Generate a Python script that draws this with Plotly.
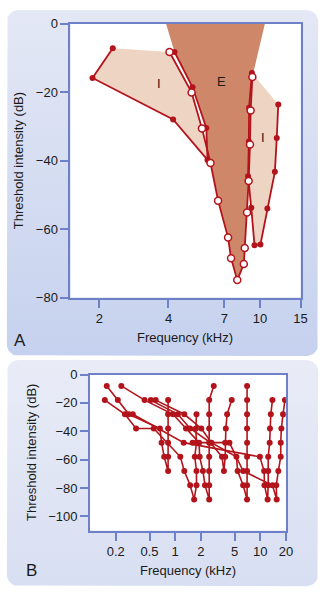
import numpy as np
import plotly.graph_objects as go

W, H = 334, 600
RED = "#b3141c"
AXC = "#6e80c8"
E_FILL = "#cf876a"
I_FILL = "#eed4c2"
FONT = "Liberation Sans, Arial, sans-serif"

# ---------------- Panel A data (kHz, dB) ----------------
open_f = [4.04, 5.04, 5.59, 6.09, 6.57, 7.26, 7.48, 7.96, 8.50, 8.58, 8.78, 8.92, 9.04, 9.10, 9.26]
open_db = [-8.3, -20.1, -30.6, -40.7, -51.7, -62.5, -68.5, -74.9, -70.2, -65.5, -55.2, -46.0, -35.3, -25.4, -15.6]

left_f = [4.25, 5.09, 5.84, 5.91, 4.19, 1.87, 2.29]
left_db = [-8.3, -18.6, -30.5, -39.8, -28.0, -15.9, -7.2]

right_f = [9.22, 8.96, 8.94, 8.87, 9.16, 9.46, 10.04, 10.76, 11.6, 11.82, 12.0]
right_db = [-14.4, -24.6, -34.4, -44.6, -53.8, -64.7, -64.5, -54.0, -43.3, -33.4, -23.6]

e_top_f = [3.9, 10.5]
e_top_db = [0, 0]

region_labels = ["I", "E", "I"]
label_f = [3.62, 6.83, 10.34]
label_db = [-17.4, -16.8, -33.3]

a_xticks = [2, 4, 7, 10, 15]
a_yticks = [0, -20, -40, -60, -80]

# ---------------- Panel B data (kHz, dB) ----------------
b1_f = [0.157, 0.212, 0.286, 0.662, 0.692, 0.743, 0.826, 0.826, 0.826, 0.826, 0.826, 0.826]
b1_db = [-8, -18, -28, -38, -48, -58, -68, -58, -48, -38, -28, -18]
b2_f = [0.149, 0.257, 0.347, 0.56, 1.15, 1.28, 1.50, 1.67, 1.78, 1.78, 1.70, 1.78, 1.75, 1.78]
b2_db = [-18, -28, -38, -38, -58, -68, -78, -88, -78, -68, -58, -48, -38, -28]
b3_f = [0.233, 0.437, 0.943, 1.34, 1.91, 1.94, 2.12, 2.24, 2.51, 2.51, 2.51, 2.51, 2.51, 2.51, 2.51, 2.51, 2.84]
b3_db = [-8, -18, -28, -38, -48, -58, -68, -78, -88, -78, -68, -58, -48, -38, -28, -18, -8]
b4_f = [0.517, 1.077, 1.50, 2.60, 3.55, 3.74, 3.87, 3.87, 3.94, 4.08, 4.62]
b4_db = [-18, -28, -38, -48, -58, -68, -58, -48, -38, -28, -18]
b5_f = [0.59, 1.28, 2.03, 2.67, 5.25, 5.42, 6.29, 7.0, 7.0, 7.0, 7.0, 7.0, 7.0, 7.0, 7.0, 7.0]
b5_db = [-18, -28, -38, -48, -58, -68, -78, -88, -78, -68, -58, -48, -38, -28, -18, -8]
b6_f = [0.318, 1.26, 9.9, 11.1, 11.2, 12.2, 12.4, 12.4, 12.4, 12.9, 13.0, 13.3, 13.9]
b6_db = [-28, -48, -58, -68, -78, -88, -78, -68, -58, -48, -38, -28, -18]
b7_f = [1.60, 4.34, 6.29, 13.9, 15.6, 15.4, 16.3, 17.4, 17.4, 17.7, 18.5, 19.5]
b7_db = [-48, -48, -68, -78, -88, -78, -68, -58, -48, -38, -28, -18]
b_curves_f = [b1_f, b2_f, b3_f, b4_f, b5_f, b6_f, b7_f]
b_curves_db = [b1_db, b2_db, b3_db, b4_db, b5_db, b6_db, b7_db]
b_xticks = [0.2, 0.5, 1, 2, 5, 10, 20]
b_yticks = [0, -20, -40, -60, -80, -100]

# ---------------- layout geometry (pixels) ----------------
A_BOX = (72, 307, 17, 298)     # x0, x1, ytop, ybottom
B_BOX = (92, 292, 377, 537)
PANEL_A = (7, 325, 3, 358)
PANEL_B = (7, 325, 362, 594)


def rrect(x0, x1, y0, y1, r):
    xs, ys = [], []
    for cx, cy, a0 in [(x1 - r, y0 + r, -90), (x1 - r, y1 - r, 0), (x0 + r, y1 - r, 90), (x0 + r, y0 + r, 180)]:
        t = np.radians(np.linspace(a0, a0 + 90, 10))
        xs += list(cx + r * np.cos(t))
        ys += list(cy + r * np.sin(t))
    return xs + [xs[0]], ys + [ys[0]]


fig = go.Figure()

# background panels (paper-pixel subplot)
for box, c0, c1 in [(PANEL_A, "#c5d1ee", "#e4e8f5"), (PANEL_B, "#d8dff2", "#e9ecf7")]:
    xs, ys = rrect(*box, 12)
    fig.add_trace(go.Scatter(x=xs, y=ys, mode="lines", fill="toself", line=dict(width=0),
                             fillgradient=dict(type="vertical", colorscale=[[0, c0], [1, c1]]),
                             hoverinfo="skip", showlegend=False, xaxis="x", yaxis="y"))
for b in (A_BOX, B_BOX):
    fig.add_trace(go.Scatter(x=[b[0], b[1], b[1], b[0], b[0]], y=[b[2], b[2], b[3], b[3], b[2]],
                             mode="lines", fill="toself", fillcolor="white", line=dict(width=0),
                             hoverinfo="skip", showlegend=False, xaxis="x", yaxis="y"))

# ---- Panel A ----
e_f = [e_top_f[0]] + left_f[:4] + open_f[3:] + [e_top_f[1]]
e_db = [e_top_db[0]] + left_db[:4] + open_db[3:] + [e_top_db[1]]
fig.add_trace(go.Scatter(x=e_f, y=e_db, mode="lines", fill="toself", fillcolor=E_FILL,
                         line=dict(width=0), showlegend=False, xaxis="x2", yaxis="y2"))
li_f = open_f[:4] + left_f[3:]
li_db = open_db[:4] + left_db[3:]
fig.add_trace(go.Scatter(x=li_f, y=li_db, mode="lines", fill="toself", fillcolor=I_FILL,
                         line=dict(width=0), showlegend=False, xaxis="x2", yaxis="y2"))
fig.add_trace(go.Scatter(x=right_f, y=right_db, mode="lines", fill="toself", fillcolor=I_FILL,
                         line=dict(width=0), showlegend=False, xaxis="x2", yaxis="y2"))

for fx, dy in [(left_f, left_db), (right_f, right_db)]:
    fig.add_trace(go.Scatter(x=fx, y=dy, mode="lines+markers", line=dict(color=RED, width=1.8),
                             marker=dict(color=RED, size=6), showlegend=False, xaxis="x2", yaxis="y2"))
fig.add_trace(go.Scatter(x=open_f, y=open_db, mode="lines+markers", line=dict(color=RED, width=1.8),
                         marker=dict(color="white", size=7, line=dict(color=RED, width=1.5)),
                         showlegend=False, xaxis="x2", yaxis="y2"))

# ---- Panel B ----
for fx, dy in zip(b_curves_f, b_curves_db):
    fig.add_trace(go.Scatter(x=fx, y=dy, mode="lines+markers", line=dict(color=RED, width=1.6),
                             marker=dict(color=RED, size=6), showlegend=False, xaxis="x3", yaxis="y3"))


def dom_x(b):
    return [b[0] / W, b[1] / W]


def dom_y(b):
    return [(H - b[3]) / H, (H - b[2]) / H]


axstyle = dict(showline=True, mirror=True, linecolor=AXC, linewidth=2, ticks="outside", ticklen=8,
               tickwidth=2, tickcolor=AXC, showgrid=False, zeroline=False,
               tickfont=dict(family=FONT, size=13, color="#1a1a1a"))

fig.update_layout(
    width=W, height=H, margin=dict(l=0, r=0, t=0, b=0),
    paper_bgcolor="white", plot_bgcolor="rgba(0,0,0,0)",
    xaxis=dict(domain=[0, 1], range=[0, W], visible=False, fixedrange=True),
    yaxis=dict(domain=[0, 1], range=[H, 0], visible=False, fixedrange=True),
    xaxis2=dict(domain=dom_x(A_BOX), type="log", range=[np.log10(1.5), np.log10(15)], anchor="y2",
                tickvals=a_xticks, ticktext=[str(v) for v in a_xticks], **axstyle),
    yaxis2=dict(domain=dom_y(A_BOX), range=[-80, 0], anchor="x2", tickvals=a_yticks, **axstyle),
    xaxis3=dict(domain=dom_x(B_BOX), type="log", range=[-1, np.log10(20)], anchor="y3",
                tickvals=b_xticks, ticktext=[str(v) for v in b_xticks], **axstyle),
    yaxis3=dict(domain=dom_y(B_BOX), range=[-110, 0], anchor="x3", tickvals=b_yticks, **axstyle),
    showlegend=False,
)

for t, fx, dy in zip(region_labels, label_f, label_db):
    fig.add_annotation(x=np.log10(fx), y=dy, xref="x2", yref="y2", text=t, showarrow=False,
                       font=dict(family=FONT, size=13, color="#1a1a1a"))

ann = [
    ("Threshold intensity (dB)", 19, 157.5, -90, 13),
    ("Frequency (kHz)", 189, 339, 0, 13),
    ("A", 20, 342, 0, 17),
    ("Threshold intensity (dB)", 32, 457, -90, 13),
    ("Frequency (kHz)", 192, 578, 0, 13),
    ("B", 32, 578, 0, 17),
]
for text, px, py, ang, sz in ann:
    fig.add_annotation(x=px / W, y=1 - py / H, xref="paper", yref="paper", text=text, showarrow=False,
                       textangle=ang, font=dict(family=FONT, size=sz, color="#1a1a1a"),
                       xanchor="center", yanchor="middle")

fig.write_html("out.html", config={"displayModeBar": False})
